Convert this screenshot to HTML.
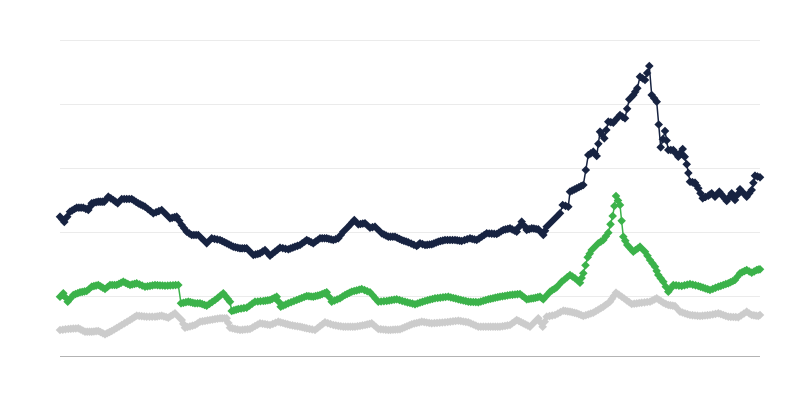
<!DOCTYPE html>
<html><head><meta charset="utf-8"><style>
html,body{margin:0;padding:0;background:#fff;}
svg{display:block;}
</style></head><body>
<svg id="c" width="800" height="400" viewBox="0 0 800 400" xmlns="http://www.w3.org/2000/svg">
<rect width="800" height="400" fill="#fff"/>
<g stroke="#ebebeb" stroke-width="1">
<line x1="60" y1="40.5" x2="760" y2="40.5"/>
<line x1="60" y1="104.5" x2="760" y2="104.5"/>
<line x1="60" y1="168.5" x2="760" y2="168.5"/>
<line x1="60" y1="232.5" x2="760" y2="232.5"/>
<line x1="60" y1="296.5" x2="760" y2="296.5"/>
</g>
<line x1="60" y1="356.5" x2="760" y2="356.5" stroke="#b3b3b3" stroke-width="1"/>
<g id="series"></g>
</svg>
<script>
var dark=[[60,216.7],[64.3,222],[70,211.7],[76.7,207.7],[83.3,207.7],[88.3,210],[91.7,203.3],[98.3,201.7],[104.3,201.7],[108.3,196.7],[113.3,200],[117.7,203.3],[121.7,199],[131.7,199],[138.3,203.3],[145,206.7],[153.3,213.3],[161.7,210],[170,218.3],[176.7,216.7],[181.7,225],[186.7,231.7],[191.7,235],[198.3,235],[206.7,243.3],[211.7,238.3],[220,240],[226.7,243.3],[233.3,246.7],[240,248.3],[246.7,248.3],[253.3,255],[260,253.3],[265,250],[270,255.7],[275,251.7],[280,247.7],[288.3,249.3],[295,246.7],[300,245],[306.7,240],[313.3,243.3],[320,238.3],[326.7,238.3],[333.3,240],[338.3,238.3],[343.3,231.7],[348.3,226.7],[354.3,220],[358.3,224.3],[365,223.3],[370,227.7],[375,226.7],[381.7,233.3],[388.3,236.7],[395,236.7],[401.7,240],[408.3,242.3],[416.7,246],[420,243.3],[425,245],[431.7,244.3],[438.3,241.7],[445,240],[455,240],[461.7,241],[470,238.3],[476.7,240],[481.7,236.7],[486.7,233.3],[496.7,234],[503.3,230],[510,228.3],[516.7,231.7],[521.7,221.7],[526.7,230],[531.7,228.3],[538.3,229.3],[543.3,235],[546.7,226.7],[551.7,221.7],[556.7,216.7],[560,213.3],[562.7,205],[568.3,206.7],[570,191.7],[576.7,188.3],[583.3,185],[588.3,155],[593.3,151.7],[596.7,156],[600,131.7],[604.3,138.3],[608.3,121.7],[613.3,122.7],[620,115],[625,118.3],[629.3,99.3],[633.3,95],[637.3,88.3],[640,76.7],[645,80],[649.3,66],[651.7,95],[656.7,101.7],[660.7,147.3],[665,131],[668.3,150],[673.3,150],[678.3,156.7],[682.7,149],[686.7,164.3],[690,181.7],[695,182.7],[698.3,188.3],[702.7,198.3],[708.3,195.7],[711.7,193.3],[715,196.7],[719.3,191.7],[723.3,196.7],[726.7,201],[731.7,193.3],[735,200],[740,189.3],[746.7,196.7],[751.7,190],[755,175.7],[760,177.3]];
var green=[[60,296.7],[63.3,293.3],[67.7,301.7],[73.3,295],[80,292.3],[86.7,291],[91.7,286.7],[98.3,285],[105,289],[110,285],[116.7,285],[123.3,281.7],[130,285],[136.7,283.3],[145,286.7],[155,285],[165,285.7],[178.3,285],[181,303.3],[188.3,301.7],[195,303.3],[200,303.3],[206.7,305.7],[215,300],[223.3,293.3],[230,301.7],[231.7,311],[238.3,309],[246.7,307.7],[255,301.7],[263.3,301],[270,300],[276.7,296.7],[280.7,306.7],[288.3,303.3],[296.7,300],[306.7,296],[313.3,296.7],[320,295],[326.7,292.3],[331.7,301.7],[340,298.3],[345,295],[351.7,291.7],[361.7,289],[370,292.3],[378.3,301.7],[386.7,301],[396.7,299.3],[405,301.7],[415,304.3],[425,301],[435,298.3],[448.3,296.7],[458.3,299.3],[468.3,301.7],[478.3,302.3],[488.3,299.3],[500,296.7],[510,295],[520,294],[526.7,299.3],[533.3,298.3],[540,296.7],[543.3,299.3],[550,291.7],[556.7,287.3],[561.7,281.7],[570,275],[575,278.3],[580,282.7],[583.3,273.3],[587.7,257.3],[591.7,250],[598.3,243.3],[603.3,240],[608.3,232.7],[612.7,216],[616,196],[620,205],[623.3,236.7],[627.3,245],[633.3,251.7],[640,246.7],[645,251.7],[650,260],[655,266.7],[658.3,275],[663.3,281.7],[668.3,291.7],[673.3,285],[681.7,286],[690,284],[698.3,286],[710,290],[718.3,286.7],[728.3,283.3],[735,280],[740,273.3],[746.7,270],[751.7,272.7],[756.7,270],[760,269.3]];
var gray=[[60,330],[68.3,329],[78.3,328.3],[85,331.7],[91.7,331.7],[98.3,331],[105,334.3],[111.7,331],[121.7,325],[130,320],[136.7,315.7],[146.7,316.7],[155,316.7],[161.7,315.7],[168.3,317.7],[175,313.3],[181.7,320],[185,327.7],[195,325],[200,321.7],[210,320],[220,318.3],[226.7,318.3],[230,327.7],[240,330],[250,329],[260,323.3],[270,325],[278.3,321.7],[290,325],[300,326.7],[306.7,328.3],[315,330],[325,322.3],[333.3,325],[343.3,326.7],[355,326.7],[365,325],[371.7,323.3],[378.3,329],[388.3,330],[400,329.3],[411.7,324.3],[421.7,321.7],[431.7,323.3],[445,322.3],[458.3,320.7],[468.3,322.3],[478.3,326.7],[488.3,326.7],[500,326.7],[510,325],[516.7,320],[523.3,323.3],[530,326.7],[538.3,318.3],[542.7,326.7],[546.7,316.7],[555,315],[563.3,310.7],[570,311.7],[576.7,313.3],[583.3,316],[593.3,312.7],[603.3,306.7],[610,301.7],[616,292.7],[621.7,296.7],[631.7,304],[641.7,302.7],[650,301.7],[656.7,298.3],[663.3,302.7],[668.3,305],[675,306],[680,311.7],[690,315],[700,316],[710,315],[718.3,313.3],[728.3,316.7],[738.3,317.3],[746.7,311.7],[751.7,315],[758.3,316],[760,315]];
function expand(pts){
  var out=[pts[0]];
  for(var i=1;i<pts.length;i++){
    var a=pts[i-1],b=pts[i];
    var dx=b[0]-a[0];
    var n=Math.floor(dx/2.9);
    for(var k=1;k<=n;k++){
      var t=k/(n+1);
      if(n>=1 && dx/(n+1)<1.6) continue;
      out.push([a[0]+dx*t,a[1]+(b[1]-a[1])*t]);
    }
    out.push(b);
  }
  return out;
}
var NS="http://www.w3.org/2000/svg";
var g=document.getElementById("series");
function draw(pts,color,lw){
  var p=expand(pts);
  var pl=document.createElementNS(NS,"polyline");
  pl.setAttribute("points",p.map(function(q){return q[0].toFixed(1)+","+q[1].toFixed(1);}).join(" "));
  pl.setAttribute("fill","none");
  pl.setAttribute("stroke",color);
  pl.setAttribute("stroke-width",lw);
  g.appendChild(pl);
  var s=4.3,d="";
  p.forEach(function(q){
    var x=q[0],y=q[1];
    d+="M"+x.toFixed(1)+" "+(y-s).toFixed(1)+"L"+(x+s).toFixed(1)+" "+y.toFixed(1)+"L"+x.toFixed(1)+" "+(y+s).toFixed(1)+"L"+(x-s).toFixed(1)+" "+y.toFixed(1)+"Z";
  });
  var path=document.createElementNS(NS,"path");
  path.setAttribute("d",d);
  path.setAttribute("fill",color);
  g.appendChild(path);
}
draw(gray,"#cccccc",1.5);
draw(green,"#3bb24a",1.5);
draw(dark,"#172341",1.5);
</script>
</body></html>
